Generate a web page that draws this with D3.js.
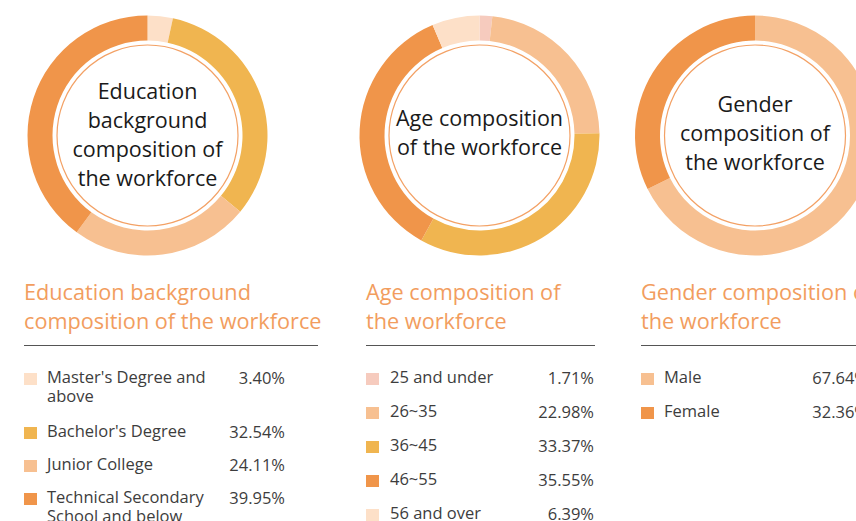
<!DOCTYPE html>
<html>
<head>
<meta charset="utf-8">
<script src="https://cdn.jsdelivr.net/npm/d3@7"></script>
<style>
  html, body { margin: 0; padding: 0; background: #fff; overflow: hidden; }
  svg { display: block; }
  text { font-family: "Open Sans", "Noto Sans", sans-serif; }
</style>
</head>
<body>
<svg id="chart" width="856" height="521"></svg>
<script>
// Workforce composition data (percent of total)
const eduLabels = [["Master's Degree and", "above"], ["Bachelor's Degree"], ["Junior College"], ["Technical Secondary", "School and below"]];
const eduValues = [3.40, 32.54, 24.11, 39.95];
const eduColors = ["#fde0c8", "#f0b550", "#f7c091", "#f0954a"];

const ageLabels = [["25 and under"], ["26~35"], ["36~45"], ["46~55"], ["56 and over"]];
const ageValues = [1.71, 22.98, 33.37, 35.55, 6.39];
const ageColors = ["#f6cbbe", "#f7c091", "#f0b550", "#f0954a", "#fde0c8"];

const genderLabels = [["Male"], ["Female"]];
const genderValues = [67.64, 32.36];
const genderColors = ["#f7c091", "#f0954a"];

// row baselines inside each legend (the first education entry wraps onto two lines)
const eduRows = [383, 437, 470, 503];
const ageRows = [383, 417, 451, 485, 519];
const genderRows = [383, 417];

const panels = [
  { title: ["Education background", "composition of the workforce"],
    center: ["Education", "background", "composition of", "the workforce"], centerShift: 0,
    labels: eduLabels, values: eduValues, colors: eduColors, rows: eduRows,
    cx: 147.5, x0: 24, textX: 47, valueX: 285, ruleEnd: 318 },
  { title: ["Age composition of", "the workforce"],
    center: ["Age composition", "of the workforce"], centerShift: -2.5,
    labels: ageLabels, values: ageValues, colors: ageColors, rows: ageRows,
    cx: 479.5, x0: 366, textX: 390, valueX: 594, ruleEnd: 595 },
  { title: ["Gender composition of", "the workforce"],
    center: ["Gender", "composition of", "the workforce"], centerShift: -1.5,
    labels: genderLabels, values: genderValues, colors: genderColors, rows: genderRows,
    cx: 755, x0: 641, textX: 664, valueX: 868, ruleEnd: 900 }
];

const svg = d3.select("#chart");
const cy = 135.5;
const outerR = 120, innerR = 95, ringR = 90.5;
const lineH = 29;

const pie = d3.pie().sort(null).value(d => d);
const arc = d3.arc().innerRadius(innerR).outerRadius(outerR);

panels.forEach(p => {
  const g = svg.append("g").attr("transform", `translate(${p.cx},${cy})`);

  // donut segments, clockwise from 12 o'clock
  g.selectAll("path.seg")
    .data(pie(p.values))
    .join("path")
    .attr("class", "seg")
    .attr("d", arc)
    .attr("fill", (d, i) => p.colors[i]);

  // thin inner ring
  g.append("circle")
    .attr("r", ringR)
    .attr("fill", "none")
    .attr("stroke", "#f3a165")
    .attr("stroke-width", 1.2);

  // centre caption
  const n = p.center.length;
  g.append("text")
    .attr("text-anchor", "middle")
    .attr("font-size", 21.5)
    .attr("fill", "#1a1a1a")
    .selectAll("tspan")
    .data(p.center)
    .join("tspan")
    .attr("x", 0)
    .attr("y", (d, i) => (i - (n - 1) / 2) * lineH + 7 + p.centerShift)
    .text(d => d);

  // legend heading
  svg.append("text")
    .attr("font-size", 21.7)
    .attr("fill", "#f29d5e")
    .selectAll("tspan")
    .data(p.title)
    .join("tspan")
    .attr("x", p.x0)
    .attr("y", (d, i) => 300 + i * 29)
    .text(d => d);

  svg.append("line")
    .attr("x1", p.x0).attr("x2", p.ruleEnd)
    .attr("y1", 345.5).attr("y2", 345.5)
    .attr("stroke", "#555").attr("stroke-width", 1);

  // legend rows
  const rows = svg.append("g").selectAll("g")
    .data(p.values)
    .join("g")
    .attr("transform", (d, i) => `translate(0,${p.rows[i]})`);

  rows.append("rect")
    .attr("x", p.x0)
    .attr("y", -10)
    .attr("width", 13)
    .attr("height", 12)
    .attr("fill", (d, i) => p.colors[i]);

  rows.append("text")
    .attr("font-size", 16.5)
    .attr("fill", "#3d3d3d")
    .selectAll("tspan")
    .data((d, i) => p.labels[i])
    .join("tspan")
    .attr("x", p.textX)
    .attr("y", (d, j) => j * 19)
    .text(d => d);

  rows.append("text")
    .attr("font-size", 16.5)
    .attr("fill", "#3d3d3d")
    .attr("text-anchor", "end")
    .attr("x", p.valueX)
    .attr("y", 1)
    .text(d => d.toFixed(2) + "%");
});
</script>
</body>
</html>
